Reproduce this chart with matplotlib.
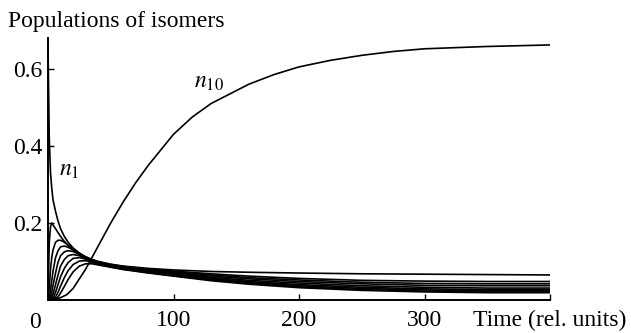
import matplotlib
matplotlib.use("Agg")
import matplotlib.pyplot as plt

plt.rcParams['font.family'] = ['Liberation Serif', 'DejaVu Serif']
plt.rcParams['mathtext.fontset'] = 'stix'

t = [0, 1, 2, 3, 4, 6, 8, 10, 13, 16, 20, 25, 30, 35, 40, 50, 60, 80, 100, 130, 160, 200, 250, 300, 350, 400]

n1 = [0.66, 0.42, 0.33, 0.29, 0.26, 0.23, 0.205, 0.185, 0.165, 0.15, 0.135, 0.122, 0.112, 0.105, 0.10, 0.093, 0.088, 0.082, 0.078, 0.074, 0.072, 0.070, 0.068, 0.067, 0.066, 0.065]
n2 = [0, 0.15, 0.19, 0.20, 0.195, 0.185, 0.175, 0.165, 0.152, 0.142, 0.13, 0.12, 0.11, 0.104, 0.099, 0.092, 0.087, 0.080, 0.075, 0.068, 0.062, 0.056, 0.051, 0.049, 0.048, 0.048]
n3 = [0, 0.03, 0.08, 0.11, 0.13, 0.15, 0.155, 0.155, 0.15, 0.142, 0.132, 0.121, 0.112, 0.105, 0.099, 0.091, 0.086, 0.079, 0.073, 0.065, 0.058, 0.052, 0.046, 0.043, 0.042, 0.042]
n4 = [0, 0.005, 0.025, 0.05, 0.075, 0.11, 0.128, 0.138, 0.14, 0.137, 0.13, 0.12, 0.111, 0.104, 0.098, 0.090, 0.085, 0.078, 0.071, 0.062, 0.055, 0.048, 0.042, 0.038, 0.037, 0.037]
n5 = [0, 0, 0.008, 0.02, 0.038, 0.07, 0.098, 0.115, 0.125, 0.128, 0.126, 0.118, 0.110, 0.103, 0.097, 0.089, 0.084, 0.076, 0.069, 0.059, 0.051, 0.044, 0.037, 0.033, 0.031, 0.031]
n6 = [0, 0, 0.002, 0.006, 0.015, 0.04, 0.065, 0.088, 0.105, 0.115, 0.118, 0.115, 0.108, 0.102, 0.096, 0.088, 0.082, 0.074, 0.067, 0.056, 0.048, 0.040, 0.033, 0.029, 0.027, 0.027]
n7 = [0, 0, 0, 0.002, 0.005, 0.02, 0.04, 0.06, 0.082, 0.097, 0.108, 0.110, 0.106, 0.100, 0.095, 0.087, 0.081, 0.072, 0.065, 0.054, 0.045, 0.037, 0.030, 0.026, 0.024, 0.024]
n8 = [0, 0, 0, 0, 0.002, 0.008, 0.02, 0.036, 0.058, 0.076, 0.092, 0.101, 0.102, 0.098, 0.093, 0.086, 0.080, 0.071, 0.063, 0.052, 0.043, 0.034, 0.027, 0.023, 0.021, 0.021]
n9 = [0, 0, 0, 0, 0, 0.003, 0.008, 0.018, 0.035, 0.053, 0.073, 0.088, 0.094, 0.094, 0.091, 0.085, 0.079, 0.070, 0.062, 0.050, 0.041, 0.032, 0.025, 0.021, 0.019, 0.019]

t10 = [0, 5, 10, 15, 20, 25, 30, 35, 40, 50, 60, 70, 80, 90, 100, 115, 130, 145, 160, 180, 200, 225, 250, 275, 300, 350, 400]
n10 = [0, 0.001, 0.006, 0.014, 0.03, 0.055, 0.08, 0.11, 0.14, 0.2, 0.255, 0.305, 0.35, 0.39, 0.43, 0.475, 0.51, 0.535, 0.56, 0.585, 0.605, 0.622, 0.635, 0.645, 0.652, 0.658, 0.662]

series = [n1, n2, n3, n4, n5, n6, n7, n8, n9]

x_ticks = [100, 200, 300, 400]
x_tick_labels = ['100', '200', '300', 'Time (rel. units)']
y_ticks = [0.2, 0.4, 0.6]
y_tick_labels = ['0.2', '0.4', '0.6']

fig = plt.figure(figsize=(6.31, 3.33), dpi=100)
ax = fig.add_axes([48/631, 33/333, (550-48)/631, (300-38)/333])

for s in series:
    ax.plot(t, s, color='black', lw=1.2, solid_capstyle='butt')
ax.plot(t10, n10, color='black', lw=1.2, solid_capstyle='butt')

ax.set_xlim(0, 400)
ax.set_ylim(0, 0.68)
for side in ['top', 'right']:
    ax.spines[side].set_visible(False)
for side in ['left', 'bottom']:
    ax.spines[side].set_linewidth(1.4)

ax.set_xticks(x_ticks)
ax.set_xticklabels(x_tick_labels)
ax.set_yticks(y_ticks)
ax.set_yticklabels(y_tick_labels)
ax.tick_params(axis='both', direction='in', length=4, width=1.0, labelsize=17, colors='black')
ax.tick_params(axis='x', pad=7)
ax.tick_params(axis='y', pad=4)

ax.text(-0.015, -0.045, '0', transform=ax.transAxes, fontsize=17, ha='right', va='top')
ax.text(9, 0.335, r'$n_1$', fontsize=17, ha='left', va='center')
ax.text(116, 0.565, r'$n_{10}$', fontsize=17, ha='left', va='center')

fig.text(8/631, 1 - 21/333, 'Populations of isomers', fontsize=17, ha='left', va='center')

fig.savefig('out.png', dpi=100)
